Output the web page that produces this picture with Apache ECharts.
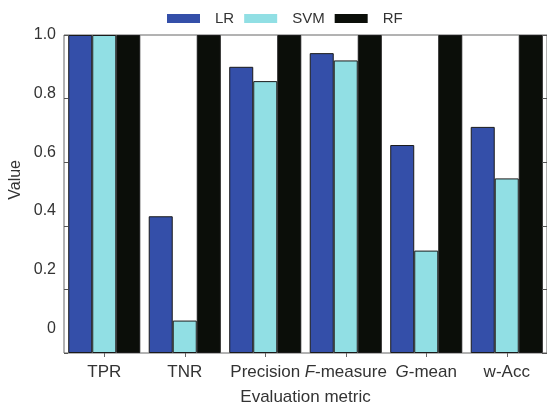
<!DOCTYPE html>
<html>
<head>
<meta charset="utf-8">
<script src="https://cdn.jsdelivr.net/npm/echarts@6/dist/echarts.min.js"></script>
<style>html,body{margin:0;padding:0;background:#fff}#c{width:547px;height:411px}</style>
</head>
<body>
<div id="c"></div>
<script>
var categories = ['TPR', 'TNR', 'Precision', 'F-measure', 'G-mean', 'w-Acc'];
var lrValues  = [1.0, 0.43, 0.90, 0.943, 0.654, 0.711];
var svmValues = [1.0, 0.102, 0.855, 0.92, 0.322, 0.549];
var rfValues  = [1.0, 1.0, 1.0, 1.0, 1.0, 1.0];
var yTickLabels = [0, 0.2, 0.4, 0.6, 0.8, 1.0];

var font = 'Liberation Sans, Arial, sans-serif';
var txt = '#333';
var chart = echarts.init(document.getElementById('c'));
var barBorder = {borderColor: '#1a1a1a', borderWidth: 1};
function catLabel(v) {
  if (v === 'F-measure') return '{i|F}-measure';
  if (v === 'G-mean') return '{i|G}-mean';
  return v;
}
chart.setOption({
  animation: false,
  backgroundColor: '#fff',
  textStyle: {fontFamily: font},
  grid: {left: 64, top: 35, right: 0, bottom: 53, show: true, borderColor: '#666', borderWidth: 1, backgroundColor: 'transparent'},
  legend: {
    left: 167, top: 11, padding: 0, icon: 'rect', itemWidth: 33, itemHeight: 9, itemGap: 10,
    itemStyle: {borderWidth: 0},
    textStyle: {fontFamily: font, fontSize: 15, color: txt, padding: [0, 0, 0, 10], width: 55},
    data: ['LR', 'SVM', 'RF']
  },
  xAxis: [{
    type: 'category', data: categories, position: 'bottom',
    axisLine: {show: false}, axisTick: {show: false},
    axisLabel: {interval: 0, fontFamily: font, fontSize: 17, color: txt, margin: 11, formatter: catLabel,
      rich: {i: {fontStyle: 'italic', fontFamily: font, fontSize: 17, color: txt}}},
    name: 'Evaluation metric', nameLocation: 'middle', nameGap: 36,
    nameTextStyle: {fontFamily: font, fontSize: 17, color: txt}
  }, {
    type: 'category', data: categories, position: 'top',
    axisLine: {show: false}, axisLabel: {show: false},
    axisTick: {show: true, inside: true, alignWithLabel: true, length: 4, lineStyle: {color: '#666'}}
  }],
  yAxis: [{
    type: 'value', min: 0, max: 1, interval: 0.2, position: 'left', z: 10,
    axisLine: {show: false}, splitLine: {show: false}, axisLabel: {show: false},
    axisTick: {show: true, inside: true, length: 4, lineStyle: {color: '#555'}}
  }, {
    type: 'value', min: 0, max: 1, interval: 0.2, position: 'right', z: 10,
    axisLine: {show: false}, splitLine: {show: false}, axisLabel: {show: false},
    axisTick: {show: true, inside: true, length: 5, lineStyle: {color: '#555'}}
  }, {
    type: 'value', min: -0.0839, max: 1, position: 'left',
    axisLine: {show: false}, splitLine: {show: false}, axisTick: {show: false},
    axisLabel: {show: true, customValues: yTickLabels, fontFamily: font, fontSize: 16, color: txt, margin: 8,
      formatter: function (v) { return v === 0 ? '0' : v.toFixed(1); }}
  }],
  graphic: [{
    type: 'text', left: 8, top: 160, rotation: Math.PI / 2,
    style: {text: 'Value', fontFamily: font, fontSize: 16, fill: txt}
  }],
  series: [
    {name: 'LR', type: 'bar', data: lrValues, barGap: '0%', barCategoryGap: '10.5%', itemStyle: Object.assign({color: '#344fa9'}, barBorder)},
    {name: 'SVM', type: 'bar', data: svmValues, barGap: '0%', barCategoryGap: '10.5%', itemStyle: Object.assign({color: '#91dfe4'}, barBorder)},
    {name: 'RF', type: 'bar', data: rfValues, barGap: '0%', barCategoryGap: '10.5%', itemStyle: Object.assign({color: '#0b0e09'}, barBorder)}
  ]
});
</script>
</body>
</html>
